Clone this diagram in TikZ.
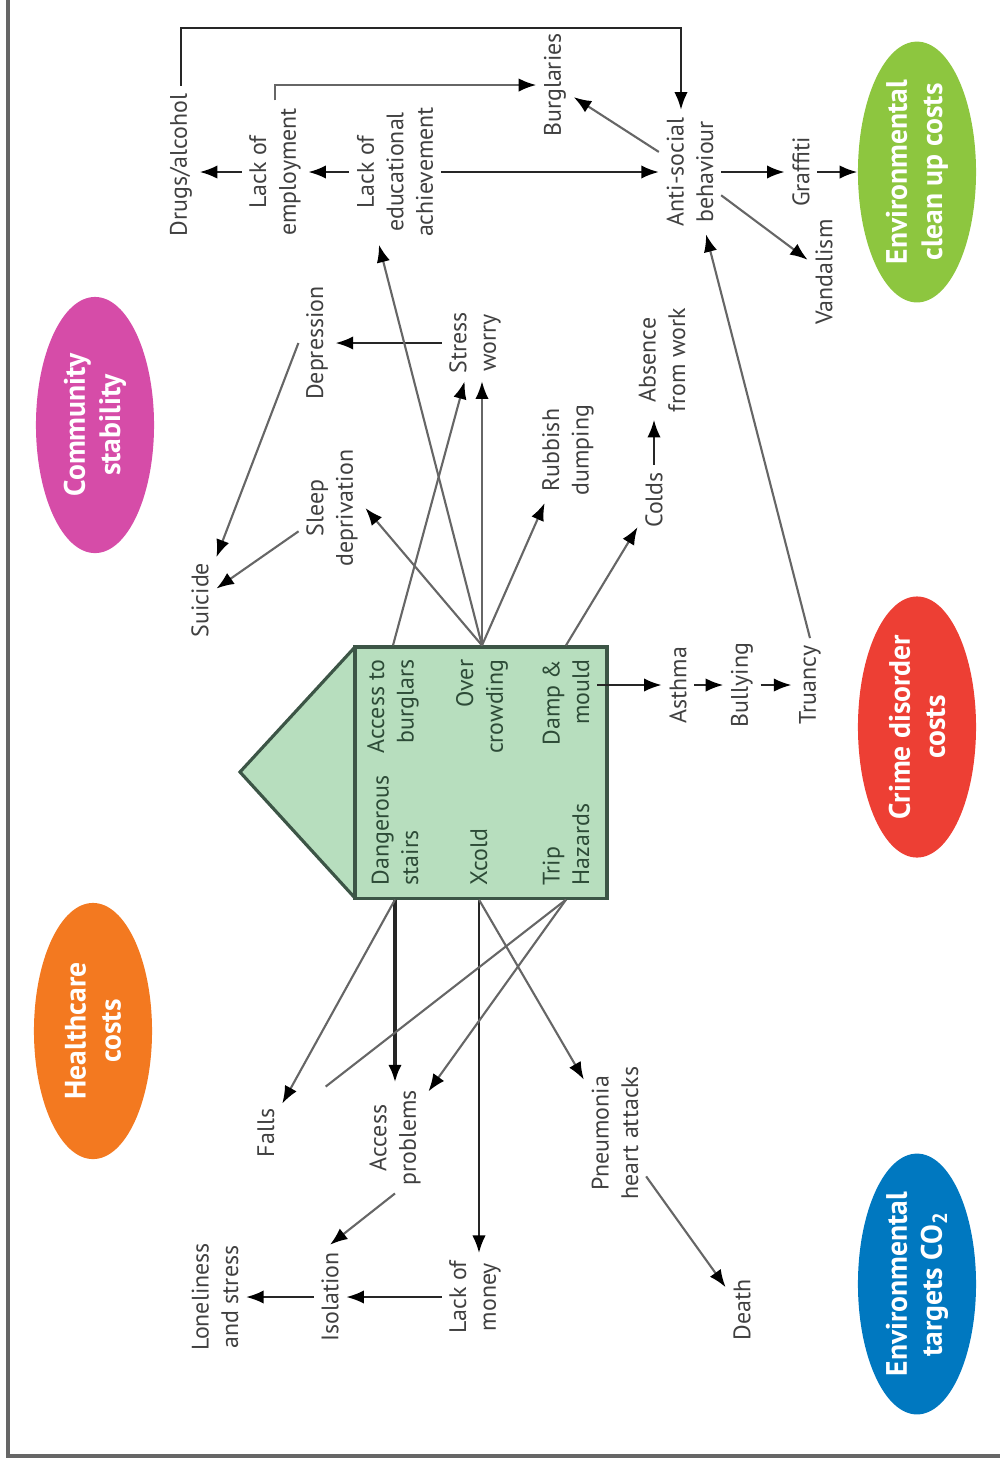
\documentclass[tikz,border=0pt]{standalone}
\usepackage{fontspec}
\setmainfont{PT Sans}
\usetikzlibrary{arrows.meta,calc,positioning,shapes.geometric}

\definecolor{pinkc}{RGB}{214,76,168}
\definecolor{orangec}{RGB}{243,121,32}
\definecolor{greenc}{RGB}{141,198,63}
\definecolor{redc}{RGB}{237,63,52}
\definecolor{bluec}{RGB}{0,120,192}
\definecolor{housefill}{RGB}{183,222,190}
\definecolor{houseline}{RGB}{60,85,70}
\definecolor{housetext}{RGB}{45,75,55}

\begin{document}
\begin{tikzpicture}[x=0.01cm, y=-0.01cm,
    lbl/.style={rotate=90, align=center, inner sep=2pt, text=black!75,
        font=\fontsize{6.8}{8.4}\selectfont},
    hlbl/.style={lbl, text=housetext},
    cost/.style={ellipse, rotate=90, minimum width=2.56cm, minimum height=1.18cm,
        inner sep=0pt, text=white, align=center,
        font=\bfseries\fontsize{8.4}{10}\selectfont},
    arr/.style={-{Latex[length=5pt,width=3.8pt,color=black,fill=black]}, line width=0.6pt, black!85},
    garr/.style={arr, black!60}]
    \useasboundingbox (0,0) rectangle (1000,1459);
    \draw[black!60, line width=0.9pt] (8,0) -- (8,1456) -- (1000,1456);

    %% cost ellipses
    \node[cost, fill=pinkc] (commu) at (95,425) {Community\\stability};
    \node[cost, fill=orangec] (health) at (93,1031) {Healthcare\\costs};
    \node[cost, fill=greenc] (clean) at (917,172) {Environmental\\clean up costs};
    \node[cost, fill=redc] (crime) at (917,727) {Crime disorder\\costs};
    \node[cost, fill=bluec] (carbon) at (917,1284) {Environmental\\targets CO\textsubscript{2}};

    %% the house
    \path[fill=housefill] (355,647) -- (240,772) -- (355,898) -- cycle;
    \draw[houseline, line width=0.9pt] (355,647) -- (240,772) -- (355,898);
    \node[draw=houseline, fill=housefill, line width=0.9pt, minimum width=2.52cm,
        minimum height=2.51cm] (house) at (481,772.5) {};
    \node[hlbl, align=right, anchor=east] (acc) at (393,652) {Access to\\burglars};
    \node[hlbl, align=right, anchor=east] (over) at (482,652) {Over\\crowding};
    \node[hlbl, align=right, anchor=east] (damp) at (566,652) {Damp \&\\mould};
    \node[hlbl, align=left, anchor=west] (stairs) at (395,893) {Dangerous\\stairs};
    \node[hlbl, align=left, anchor=west] (xcold) at (479,893) {Xcold};
    \node[hlbl, align=left, anchor=west] (trip) at (566,893) {Trip\\Hazards};

    %% effects
    \node[lbl] (drugs) at (181,165) {Drugs/alcohol};
    \node[lbl] (employ) at (275,172) {Lack of\\employment};
    \node[lbl] (educ) at (395,172) {Lack of\\educational\\achievement};
    \node[lbl] (burg) at (555,85) {Burglaries};
    \node[lbl] (anti) at (690,172) {Anti-social\\behaviour};
    \node[lbl] (graf) at (801,172) {Graffiti};
    \node[lbl] (vandal) at (824,272) {Vandalism};
    \node[lbl] (depr) at (317,343) {Depression};
    \node[lbl] (stress) at (475,343) {Stress\\worry};
    \node[lbl] (sleep) at (332,508) {Sleep\\deprivation};
    \node[lbl] (suic) at (200,600) {Suicide};
    \node[lbl] (rubbish) at (568,450) {Rubbish\\dumping};
    \node[lbl] (colds) at (654,500) {Colds};
    \node[lbl] (absence) at (662,360) {Absence\\from work};
    \node[lbl] (asthma) at (678,685) {Asthma};
    \node[lbl] (bully) at (742,685) {Bullying};
    \node[lbl] (truancy) at (810,685) {Truancy};
    \node[lbl] (falls) at (266,1133) {Falls};
    \node[lbl] (accp) at (395,1138) {Access\\problems};
    \node[lbl] (money) at (475,1297) {Lack of\\money};
    \node[lbl] (isol) at (330,1297) {Isolation};
    \node[lbl] (lonely) at (215,1297) {Loneliness\\and stress};
    \node[lbl] (pneu) at (615,1133) {Pneumonia\\heart attacks};
    \node[lbl] (death) at (742,1310) {Death};

    \coordinate (loopA) at (681,28);

    \path[arr]
        (educ) edge (employ)
        (employ) edge (drugs.south |- employ)
        (educ) edge (anti)
        (anti) edge (graf)
        (graf) edge (clean)
        (stress) edge (depr)
        (asthma) edge (bully)
        (bully) edge (truancy)
        (money) edge (isol)
        (isol) edge (lonely)
        (colds.east) edge (colds.east |- absence.west)
        (damp.south |- asthma) edge (asthma)
        (xcold.west |- house.south) edge (xcold.west |- money.east)
    ;
    \draw[arr, line width=1.1pt] (stairs.west |- house.south) -- (stairs.west |- accp.east);
    \draw[arr] (drugs.east) |- (loopA) -- (loopA |- anti.east);
    \draw[garr] (employ.east) |- (burg);

    \path[garr]
        (anti) edge (burg)
               edge (vandal)
        (depr.north) edge (suic)
        (sleep) edge (suic)
        (truancy.east) edge (anti)
        (acc.east |- house.north) edge (stress)
        (over.east |- house.north) edge ($(educ.west)!0.35!(educ.north west)$)
             edge (sleep.south)
             edge (over.east |- stress.west)
             edge (rubbish)
        (damp.east |- house.north) edge (colds)
        (stairs.west |- house.south) edge (falls)
        (trip.west |- house.south) edge (accp)
        (xcold.west |- house.south) edge (pneu)
        (accp.west) edge (isol.east)
        (pneu) edge (death)
    ;
    \draw[black!60, line width=0.6pt, shorten >=0.55cm] (trip.west |- house.south) -- (falls);
\end{tikzpicture}
\end{document}
